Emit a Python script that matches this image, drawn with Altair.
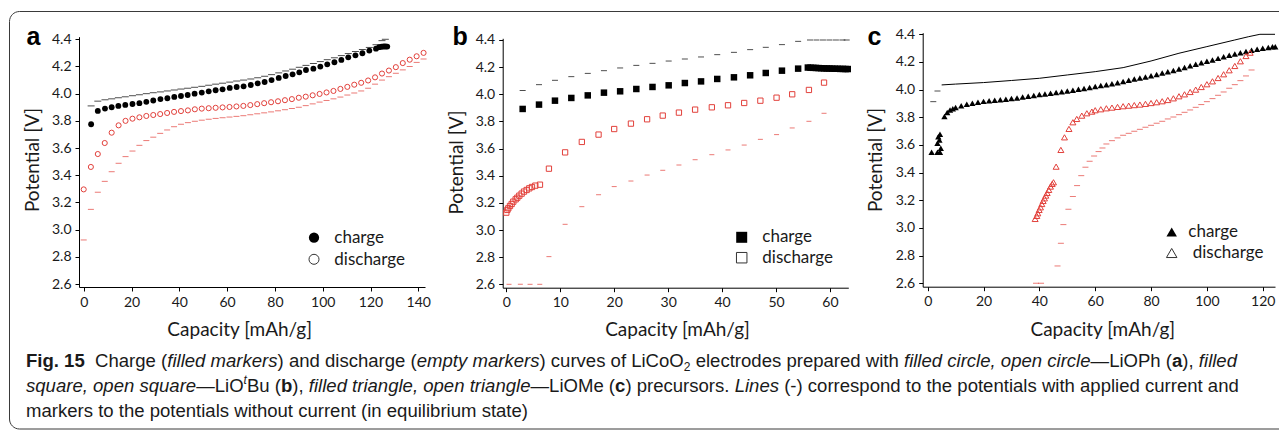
import altair as alt
import pandas as pd

# ---------------- data ----------------
# Panel a (LiOPh)
A_CHG_X = [3.1, 5.9, 8.9, 11.7, 14.5, 17.4, 20.4, 23.3, 26.2, 29.1, 32.1, 35.0, 37.9, 40.7, 43.5,
           46.4, 49.4, 52.3, 55.2, 58.1, 61.1, 64.0, 66.9, 69.9, 72.8, 75.7, 78.6, 81.6, 84.5, 87.4,
           90.2, 93.0, 96.1, 99.0, 101.9, 104.9, 107.8, 110.7, 113.7, 116.6, 119.5, 122.3,
           123.6, 124.6, 125.5, 126.3, 127.0]
A_CHG_Y = [3.775, 3.873, 3.89, 3.90, 3.91, 3.917, 3.924, 3.93, 3.94, 3.95, 3.96, 3.966, 3.976, 3.983, 3.99,
           4.0, 4.008, 4.017, 4.025, 4.032, 4.042, 4.049, 4.054, 4.064, 4.076, 4.086, 4.10, 4.116, 4.13, 4.142,
           4.157, 4.174, 4.184, 4.199, 4.216, 4.231, 4.248, 4.267, 4.282, 4.297, 4.317, 4.331,
           4.342, 4.345, 4.347, 4.347, 4.346]
A_CHG_LINE_X = [3.1, 5.9, 8.9, 11.7, 14.5, 17.4, 20.4, 23.3, 26.2, 29.1, 32.1, 35.0, 37.9, 40.7, 43.5,
                46.4, 49.4, 52.3, 55.2, 58.1, 61.1, 64.0, 66.9, 69.9, 72.8, 75.7, 78.6, 81.6, 84.5, 87.4,
                90.2, 93.0, 96.1, 99.0, 101.9, 104.9, 107.8, 110.7, 113.7, 116.6, 119.5, 122.3,
                124.8, 126.2]
A_CHG_LINE_Y = [3.91, 3.945, 3.955, 3.962, 3.97, 3.977, 3.985, 3.992, 4.0, 4.007, 4.013, 4.02, 4.027, 4.034, 4.04,
                4.047, 4.054, 4.062, 4.07, 4.077, 4.085, 4.093, 4.1, 4.108, 4.117, 4.128, 4.14, 4.153, 4.167, 4.18,
                4.194, 4.208, 4.222, 4.236, 4.25, 4.264, 4.28, 4.295, 4.31, 4.325, 4.34, 4.36,
                4.39, 4.4]
A_DIS_X = [0.0, 3.0, 5.9, 8.8, 11.7, 14.6, 17.5, 20.4, 23.3, 26.2, 29.1, 32.0, 34.9, 37.8, 40.7,
           43.6, 46.5, 49.4, 52.3, 55.2, 58.1, 61.0, 63.9, 66.8, 69.7, 72.6, 75.5, 78.4, 81.3, 84.2,
           87.1, 90.0, 92.9, 95.8, 98.7, 101.6, 104.5, 107.4, 110.3, 113.2, 116.1, 119.0, 121.9, 124.8,
           127.7, 130.6, 133.5, 136.4, 139.3, 142.2]
A_DIS_Y = [3.296, 3.461, 3.556, 3.637, 3.713, 3.767, 3.80, 3.816, 3.826, 3.836, 3.843, 3.85, 3.858, 3.866, 3.872,
           3.877, 3.885, 3.89, 3.893, 3.896, 3.899, 3.902, 3.906, 3.91, 3.916, 3.923, 3.93, 3.937, 3.944, 3.952,
           3.96, 3.97, 3.978, 3.988, 3.998, 4.009, 4.02, 4.035, 4.05, 4.066, 4.08, 4.097, 4.12, 4.148,
           4.17, 4.195, 4.225, 4.25, 4.275, 4.30]
A_DIS_LINE_Y = [2.924, 3.149, 3.275, 3.355, 3.426, 3.488, 3.537, 3.578, 3.62, 3.655, 3.68, 3.708, 3.733, 3.757, 3.775,
                3.787, 3.797, 3.805, 3.812, 3.818, 3.823, 3.828, 3.833, 3.838, 3.845, 3.852, 3.859, 3.866, 3.874, 3.882,
                3.891, 3.90, 3.912, 3.925, 3.938, 3.95, 3.962, 3.975, 3.99, 4.005, 4.02, 4.04, 4.07, 4.1,
                4.125, 4.15, 4.175, 4.2, 4.23, 4.255]

# Panel b (LiOtBu)
B_CHG_X = [3.03, 6.06, 9.02, 12.05, 15.1, 18.1, 21.1, 24.1, 27.1, 30.1, 33.1, 36.1, 39.1, 42.2, 45.2,
           48.1, 51.1, 54.1, 55.9, 56.4, 56.9, 57.4, 57.9, 58.4, 58.9, 59.4, 59.9, 60.4, 60.9, 61.4,
           61.9, 62.4, 62.9, 63.3]
B_CHG_Y = [3.892, 3.924, 3.953, 3.973, 3.992, 4.012, 4.022, 4.039, 4.054, 4.066, 4.083, 4.095, 4.113, 4.125, 4.14,
           4.157, 4.174, 4.189, 4.197, 4.196, 4.195, 4.194, 4.193, 4.192, 4.191, 4.19, 4.19, 4.189, 4.188, 4.188,
           4.187, 4.187, 4.186, 4.186]
B_CHG_LINE_X = [3.03, 6.06, 9.02, 12.05, 15.1, 18.1, 21.1, 24.1, 27.1, 30.1, 33.1, 36.1, 39.1, 42.2, 45.2,
                48.1, 51.1, 54.1, 56.3, 57.5, 58.7, 59.9, 61.1, 62.3, 63.1]
B_CHG_LINE_Y = [4.027, 4.071, 4.103, 4.13, 4.154, 4.174, 4.194, 4.213, 4.228, 4.245, 4.26, 4.275, 4.292, 4.309, 4.329,
                4.346, 4.366, 4.39, 4.4, 4.4, 4.4, 4.4, 4.4, 4.4, 4.4]
B_DIS_X = [0.0, 0.19, 0.37, 0.68, 0.99, 1.30, 1.73, 2.04, 2.41, 2.84, 3.28, 3.77, 4.26, 4.76, 5.38, 6.24,
           7.9, 10.9, 14.0, 17.1, 20.0, 23.1, 26.1, 29.0, 32.0, 35.0, 38.1, 41.1, 44.1, 47.1, 50.1,
           53.0, 56.1, 58.9]
B_DIS_Y = [3.128, 3.148, 3.160, 3.177, 3.192, 3.209, 3.226, 3.238, 3.253, 3.268, 3.283, 3.295, 3.307, 3.317, 3.327, 3.334,
           3.452, 3.572, 3.649, 3.703, 3.744, 3.784, 3.816, 3.843, 3.865, 3.887, 3.904, 3.919, 3.936, 3.953, 3.975,
           4.0, 4.032, 4.086]
B_DIS_LINE_X = [0.5, 2.6, 4.4, 6.2, 7.9, 10.9, 14.0, 17.1, 20.0, 23.1, 26.1, 29.0, 32.0, 35.0, 38.1, 41.1,
                44.1, 47.1, 50.1, 53.0, 56.1, 58.9]
B_DIS_LINE_Y = [2.6, 2.6, 2.6, 2.6, 2.804, 3.042, 3.172, 3.26, 3.32, 3.361, 3.405, 3.44, 3.479, 3.518, 3.555, 3.59,
                3.626, 3.668, 3.703, 3.752, 3.801, 3.86]

# Panel c (LiOMe)
C_CHG_X = [1.4, 3.5, 4.4, 4.7, 3.5, 4.2, 3.8, 4.4, 6.0, 7.0, 8.0, 9.0, 10, 12, 14, 16, 18, 20, 22, 24, 26, 28, 30,
           32, 34, 36, 38, 40, 42, 44, 46, 48, 50, 52, 54, 56, 58, 60, 62, 64, 66, 68, 70, 72, 74, 76, 78, 80,
           82, 84, 86, 88, 90, 92, 94, 96, 98, 100, 102, 104, 106, 108, 110, 112, 114, 116, 118, 120, 122,
           123.5, 124.5]
C_CHG_Y = [3.547, 3.547, 3.547, 3.576, 3.612, 3.636, 3.66, 3.677, 3.805, 3.835, 3.852, 3.862, 3.87, 3.884, 3.894,
           3.902, 3.909, 3.915, 3.919, 3.923, 3.927, 3.931, 3.935, 3.94, 3.946, 3.952, 3.958, 3.964, 3.969, 3.974,
           3.979, 3.985, 3.99, 3.996, 4.002, 4.008, 4.015, 4.022, 4.029, 4.036, 4.043, 4.05, 4.058, 4.067, 4.076,
           4.084, 4.092, 4.101, 4.11, 4.12, 4.13, 4.139, 4.149, 4.16, 4.172, 4.184, 4.195, 4.205, 4.215, 4.226,
           4.237, 4.248, 4.258, 4.267, 4.276, 4.285, 4.292, 4.299, 4.305, 4.31, 4.31]
C_CHG_LINE_X = [5.0, 10, 20, 30, 40, 50, 60, 70, 80, 90, 100, 110, 115, 119, 124.4]
C_CHG_LINE_Y = [4.034, 4.04, 4.051, 4.066, 4.082, 4.106, 4.13, 4.159, 4.207, 4.263, 4.311, 4.359, 4.383, 4.4, 4.4]
C_CHG_DASH_X = [2.0, 3.5]
C_CHG_DASH_Y = [3.913, 3.99]
C_DIS_X = [38.48, 39.08, 39.44, 39.92, 40.40, 40.88, 41.35, 41.83, 42.31, 42.79, 43.38, 43.98, 44.58, 45.06,
           46.0, 47.7, 49.0, 50.6, 52.0, 53.4, 55.2, 57.0, 58.8, 60, 62, 64, 66, 68, 70, 72, 74, 76, 78, 80,
           82, 84, 86, 88, 90, 92, 94, 96, 98, 100, 102, 104, 106, 108, 110, 112, 114, 115.5]
C_DIS_Y = [3.065, 3.087, 3.106, 3.130, 3.149, 3.173, 3.195, 3.214, 3.234, 3.253, 3.275, 3.299, 3.318, 3.33,
           3.443, 3.564, 3.655, 3.716, 3.764, 3.788, 3.812, 3.829, 3.841, 3.851, 3.858, 3.865, 3.87, 3.875, 3.88,
           3.884, 3.888, 3.892, 3.897, 3.903, 3.909, 3.916, 3.925, 3.937, 3.952, 3.966, 3.983, 4.0, 4.019, 4.039,
           4.06, 4.084, 4.111, 4.14, 4.171, 4.205, 4.243, 4.267]
C_DIS_LINE_X = [38.8, 40.6, 46.5, 47.7, 48.6, 50.4, 52.0, 53.5, 55.0, 56.5, 58.0, 59.6, 61.2, 62.6, 64, 66, 68, 70,
                72, 74, 76, 78, 80, 82, 84, 86, 88, 90, 92, 94, 96, 98, 100, 102, 104, 106, 108, 110, 112, 114, 116]
C_DIS_LINE_Y = [2.6, 2.6, 2.725, 2.889, 3.024, 3.135, 3.227, 3.306, 3.378, 3.439, 3.482, 3.52, 3.552, 3.578, 3.607,
                3.631, 3.651, 3.67, 3.684, 3.699, 3.713, 3.728, 3.742, 3.757, 3.771, 3.788, 3.802, 3.819, 3.836,
                3.853, 3.872, 3.892, 3.913, 3.935, 3.959, 3.983, 4.01, 4.036, 4.065, 4.099, 4.142]

Y_TICKS = [2.6, 2.8, 3.0, 3.2, 3.4, 3.6, 3.8, 4.0, 4.2, 4.4]
A_X_TICKS = [0, 20, 40, 60, 80, 100, 120, 140]
B_X_TICKS = [0, 10, 20, 30, 40, 50, 60]
C_X_TICKS = [0, 20, 40, 60, 80, 100, 120]

X_TITLE = "Capacity [mAh/g]"
Y_TITLE = "Potential [V]"
LEGEND = ["charge", "discharge"]

# caption text: (segment, style)  b=bold n=normal i=italic sub/sup
CAPTION_LINES = [
    [("Fig. 15", "b"), ("  ", "n"), ("Charge (", "n"), ("filled markers", "i"), (") and discharge (", "n"),
     ("empty markers", "i"), (") curves of LiCoO", "n"), ("2", "sub"), (" electrodes prepared with ", "n"),
     ("filled circle, open circle", "i"), ("\u2014LiOPh (", "n"), ("a", "b"), ("), ", "n"), ("filled", "i")],
    [("square, open square", "i"), ("\u2014LiO", "n"), ("t", "sup"), ("Bu (", "n"), ("b", "b"), ("), ", "n"),
     ("filled triangle, open triangle", "i"), ("\u2014LiOMe (", "n"), ("c", "b"), (") precursors. ", "n"),
     ("Lines", "i"), (" (-) correspond to the potentials with applied current and", "n")],
    [("markers to the potentials without current (in equilibrium state)", "n")],
]

# ---------------- layout / style ----------------
W, H = 1271, 424
FONT = "Lato"
CAP_FONT = "Liberation Sans"
RED = "#e2403b"
INK = "#1a1a1a"


def P(v):
    """image pixel -> view pixel (page margin 8px)"""
    return v - 8


PANELS = {
    "a": dict(xd=[-1.97, 142.8], xr=[79, 425], yd=[2.578, 4.419], yr=[287, 36.7], xt=A_X_TICKS),
    "b": dict(xd=[-0.67, 63.4], xr=[502.7, 848.3], yd=[2.575, 4.4125], yr=[287.7, 38.3], xt=B_X_TICKS),
    "c": dict(xd=[-1.79, 124.4], xr=[922.7, 1275], yd=[2.575, 4.4116], yr=[286.7, 32.7], xt=C_X_TICKS),
}


def enc(p, with_axes=False):
    xs = alt.Scale(domain=p["xd"], range=[P(p["xr"][0]), P(p["xr"][1])], nice=False, zero=False)
    ys = alt.Scale(domain=p["yd"], range=[P(p["yr"][0]), P(p["yr"][1])], nice=False, zero=False)
    if with_axes:
        xa = alt.Axis(orient="bottom", offset=P(p["yr"][0]) - H, values=p["xt"], format="d", title=None,
                      grid=False, tickSize=4, tickColor="black", domainColor="black", labelPadding=4,
                      labelFont=FONT, labelFontSize=14, labelColor=INK, labelFlush=False, labelOverlap=False)
        ya = alt.Axis(orient="left", offset=-P(p["xr"][0]), values=Y_TICKS, format=".1f", title=None,
                      grid=False, tickSize=4, tickColor="black", domainColor="black", labelPadding=4,
                      labelFont=FONT, labelFontSize=14, labelColor=INK, labelFlush=False, labelOverlap=False)
    else:
        xa = None
        ya = None
    return dict(x=alt.X("x:Q", scale=xs, axis=xa), y=alt.Y("y:Q", scale=ys, axis=ya))


def df(xs, ys):
    return pd.DataFrame({"x": xs, "y": ys})


layers = []


def dashes(p, xs, ys, color, length=7, axes=False):
    layers.append(alt.Chart(df(xs, ys)).mark_tick(orient="horizontal", size=length, thickness=1, color=color)
                  .encode(**enc(p, axes)))


def points(p, xs, ys, shape, filled, color, size):
    if filled:
        m = alt.Chart(df(xs, ys)).mark_point(shape=shape, filled=True, color=color, size=size, opacity=1)
    else:
        m = alt.Chart(df(xs, ys)).mark_point(shape=shape, filled=False, color=color, size=size,
                                             strokeWidth=1, opacity=1)
    layers.append(m.encode(**enc(p)))


one = pd.DataFrame({"k": [0]})


def text(s, x, y, size=17, weight="normal", style="normal", align="left", baseline="middle", angle=0,
         font=FONT, color=INK):
    kw = dict(text=s, fontSize=size, fontWeight=weight, fontStyle=style, align=align, baseline=baseline,
              font=font, color=color)
    if angle:
        kw["angle"] = angle
    layers.append(alt.Chart(one).mark_text(**kw).encode(x=alt.value(P(x)), y=alt.value(P(y))))


def legend_marker(x, y, shape, filled, size):
    if filled:
        m = alt.Chart(one).mark_point(shape=shape, filled=True, color="black", size=size, opacity=1)
    else:
        m = alt.Chart(one).mark_point(shape=shape, filled=False, color="#333333", size=size,
                                      strokeWidth=1, opacity=1)
    layers.append(m.encode(x=alt.value(P(x)), y=alt.value(P(y))))


# frame around figure + caption
layers.append(alt.Chart(one).mark_rect(cornerRadius=10, fillOpacity=0, stroke="#3a3a3a", strokeWidth=1)
              .encode(x=alt.value(1.5), x2=alt.value(1300), y=alt.value(3.5), y2=alt.value(P(429))))

# ---- panel a ----
pa = PANELS["a"]
dashes(pa, A_CHG_LINE_X, A_CHG_LINE_Y, "black", 7, axes=True)
dashes(pa, A_DIS_X, A_DIS_LINE_Y, RED, 6)
points(pa, A_CHG_X, A_CHG_Y, "circle", True, "black", 34)
points(pa, A_DIS_X, A_DIS_Y, "circle", False, RED, 26)

# ---- panel b ----
pb = PANELS["b"]
dashes(pb, B_CHG_LINE_X, B_CHG_LINE_Y, "black", 6, axes=True)
dashes(pb, B_DIS_LINE_X, B_DIS_LINE_Y, RED, 5)
points(pb, B_CHG_X, B_CHG_Y, "square", True, "black", 42)
points(pb, B_DIS_X, B_DIS_Y, "square", False, RED, 28)

# ---- panel c ----
pc = PANELS["c"]
layers.append(alt.Chart(df(C_CHG_LINE_X, C_CHG_LINE_Y)).mark_line(color="black", strokeWidth=1)
              .encode(**enc(pc, True)))
dashes(pc, C_CHG_DASH_X, C_CHG_DASH_Y, "black", 6)
dashes(pc, C_DIS_LINE_X, C_DIS_LINE_Y, RED, 6)
points(pc, C_CHG_X, C_CHG_Y, "triangle-up", True, "black", 40)
points(pc, C_DIS_X, C_DIS_Y, "triangle-up", False, RED, 36)

# ---- axis titles, panel letters ----
for cx, cy in [(239.7, 330), (677.5, 330), (1102.8, 330)]:
    text(X_TITLE, cx, cy, size=19, align="center")
for cx, cy in [(33.3, 160), (456.7, 162.5), (876, 160)]:
    text(Y_TITLE, cx, cy, size=19, align="center", angle=270)
for s, lx in [("a", 26.5), ("b", 452.5), ("c", 867.5)]:
    text(s, lx, 45, size=25, weight="bold", baseline="alphabetic", font="Liberation Sans", color="black")

# ---- legends ----
legend_marker(314, 237.7, "circle", True, 105)
legend_marker(314, 259.3, "circle", False, 100)
text(LEGEND[0], 334.3, 237.7)
text(LEGEND[1], 334.3, 259.5)
legend_marker(741.7, 237.3, "square", True, 121)
legend_marker(741.7, 257.7, "square", False, 110)
text(LEGEND[0], 762.3, 237.3)
text(LEGEND[1], 762.3, 258)
legend_marker(1171.7, 232, "triangle-up", True, 110)
legend_marker(1171.7, 253, "triangle-up", False, 110)
text(LEGEND[0], 1188.3, 232)
text(LEGEND[1], 1192.7, 253)

# ---- caption: laid out with Arial-compatible (Liberation Sans) advance widths ----
ADV = {" ": 278, "(": 333, ")": 333, ",": 278, ".": 278, "-": 333, "\u2014": 1000,
       "1": 556, "2": 556, "5": 556,
       "a": 556, "b": 556, "c": 500, "d": 556, "e": 556, "f": 278, "g": 556, "h": 556, "i": 222, "j": 222,
       "k": 500, "l": 222, "m": 833, "n": 556, "o": 556, "p": 556, "q": 556, "r": 333, "s": 500, "t": 278,
       "u": 556, "v": 500, "w": 722, "x": 500, "y": 500, "z": 500,
       "A": 667, "B": 667, "C": 722, "D": 722, "E": 667, "F": 611, "G": 778, "H": 722, "I": 278, "L": 556,
       "M": 833, "O": 778, "P": 667, "S": 667, "T": 611}
ADV_BOLD = {"F": 611, "i": 278, "g": 611, ".": 278, " ": 278, "1": 556, "5": 556, "a": 556, "b": 611,
            "c": 556}


def seg_width(s, st):
    table = ADV_BOLD if st == "b" else ADV
    w = sum(table.get(ch, ADV.get(ch, 556)) for ch in s) / 1000.0
    return w * (0.65 if st in ("sub", "sup") else 1.0)


LINE1_LEFT, LINE1_RIGHT = 26, 1237
CAP_SIZE = (LINE1_RIGHT - LINE1_LEFT) / sum(seg_width(s, st) for s, st in CAPTION_LINES[0])
LINE_Y = [361, 386, 411]

for ly, segs in zip(LINE_Y, CAPTION_LINES):
    cx = LINE1_LEFT
    for s, st in segs:
        lead = len(s) - len(s.lstrip(" "))
        body = s.strip(" ")
        if body:
            sx = cx + seg_width(s[:lead], st) * CAP_SIZE
            if st == "sub":
                text(body, sx, ly + 0.3 * CAP_SIZE, size=0.65 * CAP_SIZE, font=CAP_FONT, color=INK)
            elif st == "sup":
                text(body, sx, ly - 0.35 * CAP_SIZE, size=0.65 * CAP_SIZE, style="italic", font=CAP_FONT,
                     color=INK)
            else:
                text(body, sx, ly, size=CAP_SIZE, weight="bold" if st == "b" else "normal",
                     style="italic" if st == "i" else "normal", font=CAP_FONT, color=INK)
        cx += seg_width(s, st) * CAP_SIZE

chart = (alt.layer(*layers)
         .resolve_scale(x="independent", y="independent")
         .properties(width=W, height=H, autosize="none", padding=0)
         .configure_view(stroke=None))

chart.save("out.html", embed_options={"renderer": "svg", "actions": False})
